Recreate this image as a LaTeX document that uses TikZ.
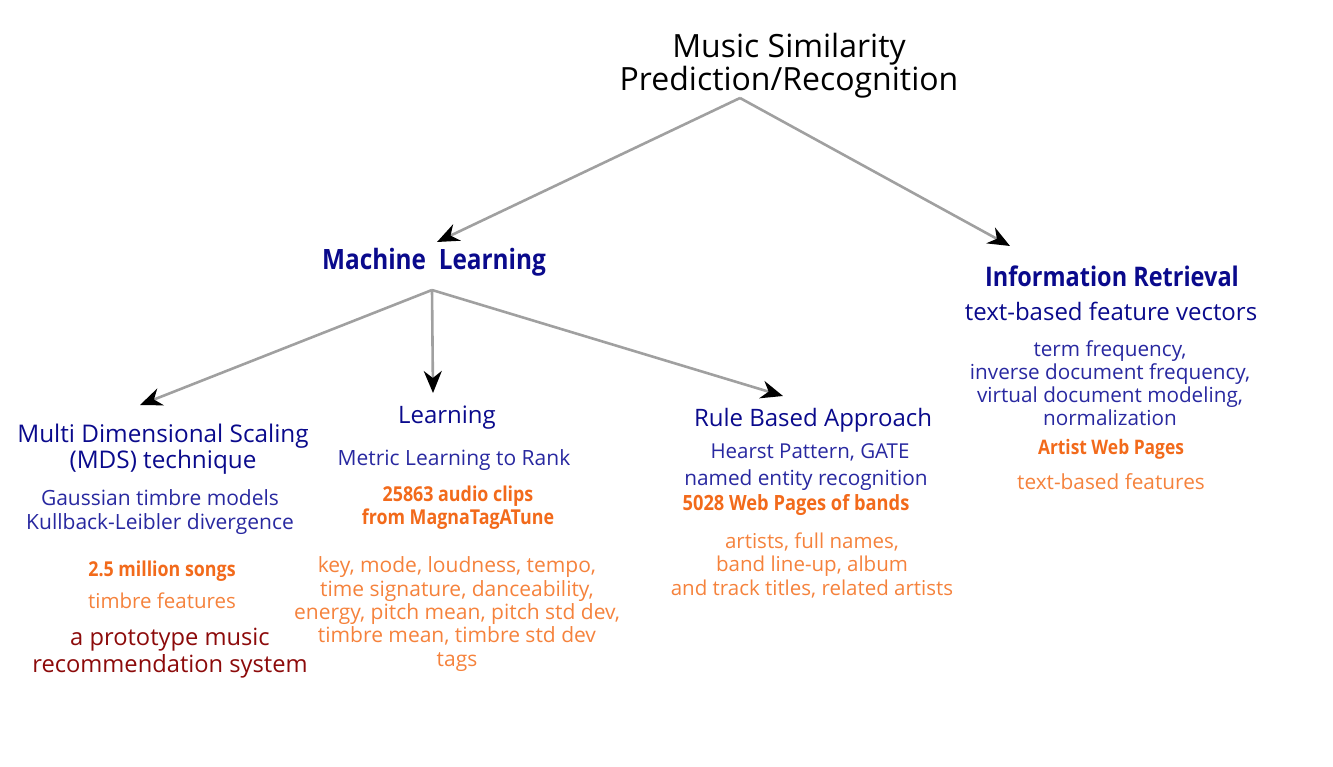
\documentclass[tikz,border=0pt]{standalone}
\usepackage{fontspec}
\setmainfont{Open Sans}
\newfontfamily\condb{Open Sans}[FakeStretch=0.87]
\usetikzlibrary{arrows.meta}
\definecolor{navyc}{RGB}{10,10,140}
\definecolor{bluel}{RGB}{40,40,160}
\definecolor{orangeb}{RGB}{242,106,27}
\definecolor{orangel}{RGB}{245,130,60}
\definecolor{darkred}{RGB}{140,10,10}
\definecolor{lineg}{RGB}{160,160,160}
\tikzset{
  txt/.style={inner sep=0pt, align=center, anchor=center},
  conn/.style={draw=lineg, line width=2.6pt, -{Stealth[color=black,length=22pt,width=18pt,inset=7pt]}},
}
\newcommand{\fsz}[2]{\fontsize{#1}{#2}\selectfont}
\begin{document}
\begin{tikzpicture}[x=1pt,y=-1pt]
\useasboundingbox (0,0) rectangle (1333,766);
% title
\node[txt, text=black, font=\fsz{32}{33}] (title) at (789,66) {Music Similarity\\Prediction/Recognition};
% level 1
\node[txt, text=navyc, font=\condb\bfseries\fsz{28}{30}] (ml) at (434,262) {Machine\ \ Learning};
\node[txt, text=navyc, font=\condb\bfseries\fsz{27}{30}] (ir) at (1112,276) {Information Retrieval};
\node[txt, text=navyc, font=\fsz{24}{26}] (irs) at (1111,311) {text-based feature vectors};
\node[txt, text=bluel, font=\fsz{20.7}{23.2}] (ird) at (1110,383) {term frequency,\\inverse document frequency,\\virtual document modeling,\\normalization};
\node[txt, text=orangeb, font=\condb\bfseries\fsz{20}{22}] (irw) at (1111,449) {Artist Web Pages};
\node[txt, text=orangel, font=\fsz{20.8}{23}] (irf) at (1111,482) {text-based features};
% MDS
\node[txt, text=navyc, font=\fsz{24.3}{26}] (mds) at (163,449) {Multi Dimensional Scaling\\(MDS) technique};
\node[txt, text=bluel, font=\fsz{21}{24}] (mdsd) at (160,512) {Gaussian timbre models\\Kullback-Leibler divergence};
\node[txt, text=orangeb, font=\condb\bfseries\fsz{20.5}{22}] (mdsw) at (162,571) {2.5 million songs};
\node[txt, text=orangel, font=\fsz{20.5}{23}] (mdsf) at (162,601) {timbre features};
\node[txt, text=darkred, font=\fsz{23.7}{27}] (mdsr) at (170,653) {a prototype music\\recommendation system};
% Learning
\node[txt, text=navyc, font=\fsz{24}{26}] (lr) at (447,418) {Learning};
\node[txt, text=bluel, font=\fsz{21}{23}] (lrs) at (454,460) {Metric Learning to Rank};
\node[txt, text=orangeb, font=\condb\bfseries\fsz{20.5}{23}] (lrw) at (458,508) {25863 audio clips\\from MagnaTagATune};
\node[txt, text=orangel, font=\fsz{21}{23.3}] (lrf) at (457,614) {key, mode, loudness, tempo,\\time signature, danceability,\\energy, pitch mean, pitch std dev,\\timbre mean, timbre std dev\\tags};
% Rule based
\node[txt, text=navyc, font=\fsz{24}{26}] (rb) at (813,420) {Rule Based Approach};
\node[txt, text=bluel, font=\fsz{20.5}{23}] (rbs) at (810,452) {Hearst Pattern, GATE};
\node[txt, text=bluel, font=\fsz{20.8}{23}] (rbn) at (806,480) {named entity recognition};
\node[txt, text=orangeb, font=\condb\bfseries\fsz{21}{22}] (rbw) at (796,505) {5028 Web Pages of bands};
\node[txt, text=orangel, font=\fsz{20.5}{23.5}] (rbf) at (812,565) {artists, full names,\\band line-up, album\\and track titles, related artists};
% connector ends
\coordinate (ts) at (740,98);
\coordinate (mls) at (432,290);
\coordinate (mlT) at (437,242);
\coordinate (irT) at (1010,246);
\coordinate (mdsT) at (140,405);
\coordinate (lrT) at (433,393);
\coordinate (rbT) at (783,396);
\draw[conn] (ts) -- (mlT);
\draw[conn] (ts) -- (irT);
\draw[conn] (mls) -- (mdsT);
\draw[conn] (mls) -- (lrT);
\draw[conn] (mls) -- (rbT);
\end{tikzpicture}
\end{document}
